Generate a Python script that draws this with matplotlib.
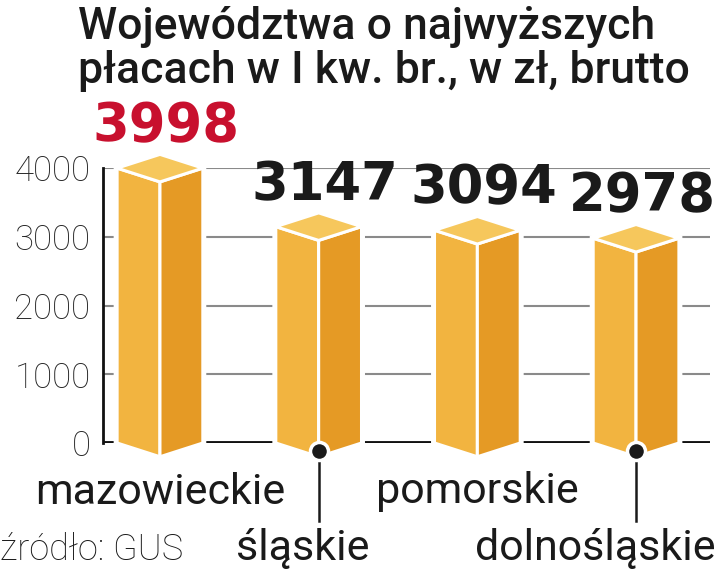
import numpy as np
import matplotlib.pyplot as plt
from matplotlib.patches import Polygon

# dane
regions = ['mazowieckie', 'śląskie', 'pomorskie', 'dolnośląskie']
wages = [3998, 3147, 3094, 2978]
yticks = [0, 1000, 2000, 3000, 4000]
title = 'Województwa o najwyższych\npłacach w I kw. br., w zł, brutto'
source = 'źródło: GUS'

c_left = '#f2b440'
c_right = '#e59a25'
c_top = '#f6c75c'
c_red = '#c8102e'
c_text = '#1a1a1a'

W, H = 720, 577
fig = plt.figure(figsize=(7.2, 5.77), dpi=100)
ax = fig.add_axes([103 / W, (H - 443) / H, (710 - 103) / W, (443 - 168) / H])
ax.set_xlim(-0.359, 3.466)
ax.set_ylim(0, 4000)

w = 0.27   # pol szerokosci slupka
d = 200    # glebokosc (w jednostkach y)

x = np.arange(len(wages))
for i, (c, v) in enumerate(zip(x, wages)):
    hexa = [(c - w, 0), (c - w, v), (c, v + d), (c + w, v), (c + w, 0), (c, -d)]
    ax.add_patch(Polygon(hexa, closed=True, fc='white', ec='white', lw=5,
                         zorder=3, clip_on=False))
    left = [(c - w, 0), (c - w, v), (c, v - d), (c, -d)]
    right = [(c, -d), (c, v - d), (c + w, v), (c + w, 0)]
    top = [(c - w, v), (c, v + d), (c + w, v), (c, v - d)]
    for pts, col in [(left, c_left), (right, c_right), (top, c_top)]:
        ax.add_patch(Polygon(pts, closed=True, fc=col, ec='white', lw=2.2,
                             zorder=4, clip_on=False, joinstyle='round'))
    # wartosci
    ax.text(c + 0.04, v + d + 190, str(v), ha='center', va='baseline',
            fontsize=38, fontweight='bold', family='DejaVu Sans',
            color=c_red if v == max(wages) else c_text, clip_on=False)
    # podpisy
    if i % 2 == 0:
        ax.text(c, -880, regions[i], ha='center', va='baseline', fontsize=31,
                family='Roboto', color=c_text, clip_on=False)
    else:
        ax.plot([c, c], [-d + 90, -1130], color=c_text, lw=1.8, zorder=5,
                clip_on=False)
        ax.plot([c], [-d + 90], marker='o', ms=13, mfc=c_text, mec='white',
                mew=2.5, zorder=6, clip_on=False)
        if i == len(wages) - 1:
            ax.text(c + 0.5, -1700, regions[i], ha='right', va='baseline',
                    fontsize=31, family='Roboto', color=c_text, clip_on=False)
        else:
            ax.text(c - 0.1, -1700, regions[i], ha='center', va='baseline',
                    fontsize=31, family='Roboto', color=c_text, clip_on=False)

ax.set_yticks(yticks)
ax.set_yticklabels([str(t) for t in yticks], fontsize=25, family='Roboto',
                   fontweight='light', color='#222222')
ax.tick_params(axis='y', length=0, pad=9)
ax.set_xticks([])
ax.yaxis.grid(True, color='#8a8a8a', lw=1.5, zorder=1)
ax.set_axisbelow(True)
ax.axhline(0, color='#111111', lw=3.5, zorder=2)
for s in ['top', 'right', 'bottom']:
    ax.spines[s].set_visible(False)
ax.spines['left'].set_color('#111111')
ax.spines['left'].set_linewidth(2)
ax.patch.set_alpha(0)

fig.text(78 / W, 1 - 6 / H, title, ha='left', va='top', fontsize=32,
         family='Roboto', fontweight='medium', color=c_text, linespacing=1.05)
fig.text(0, 1 - 560 / H, source, ha='left', va='baseline', fontsize=26,
         family='Roboto', fontweight='light', color=c_text)

fig.savefig('out.png', dpi=100)
